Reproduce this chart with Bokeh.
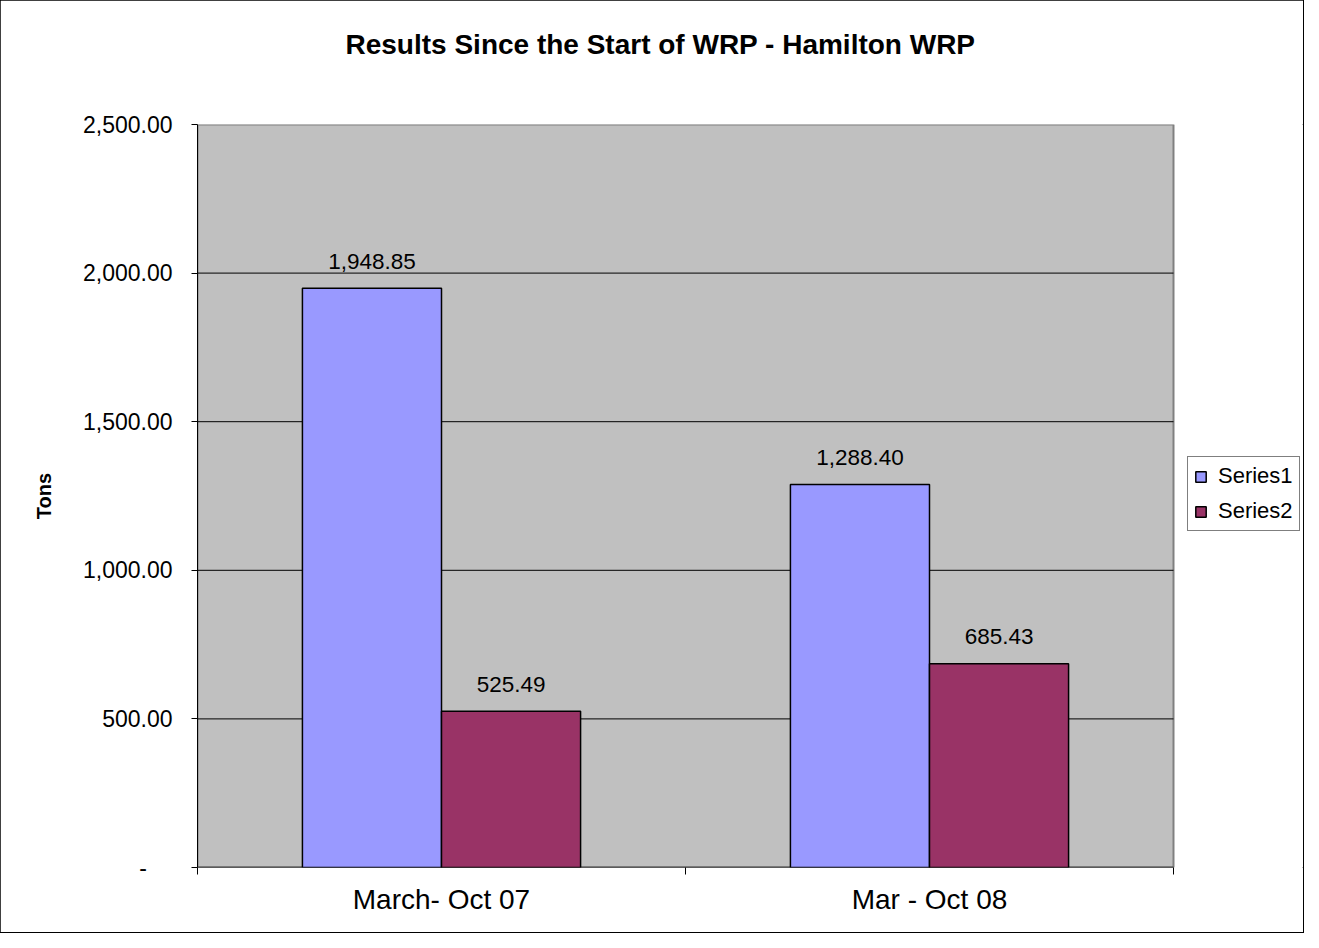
from bokeh.plotting import figure
from bokeh.models import (ColumnDataSource, Range1d, FixedTicker, NumeralTickFormatter,
                          Legend, LegendItem, Title)
from bokeh.core.properties import value
from bokeh.embed import file_html
from bokeh.resources import INLINE

# ---- data ----
categories = ["March- Oct 07", "Mar - Oct 08"]
series_names = ["Series1", "Series2"]
series1 = [1948.85, 1288.40]
series2 = [525.49, 685.43]
y_ticks = [0, 500, 1000, 1500, 2000, 2500]
title_text = "Results Since the Start of WRP - Hamilton WRP"
y_label = "Tons"

colors = ["#9999FF", "#993366"]
FONT = "Liberation Sans"
BAR_W = 0.285
W, H = 1303, 932
PLOT_L, PLOT_R = 197, 1173      # pixel extent of the grey plot area
n = len(categories)
y_max = y_ticks[-1]
x_end = n * (W - PLOT_L) / (PLOT_R - PLOT_L)   # frame extends under the legend

p = figure(width=W, height=H, output_backend="svg", toolbar_location=None,
           x_range=Range1d(0, x_end), y_range=Range1d(0, y_max),
           min_border_left=PLOT_L, min_border_right=0, min_border_top=124,
           min_border_bottom=65)
p.styles = {"outline": "2px solid black", "outline-offset": "-1px"}
p.background_fill_color = "white"
p.border_fill_color = "white"
p.outline_line_color = None

# grey plot area, gridlines, bottom axis line
p.quad(left=[0], right=[n], bottom=[0], top=[y_max], fill_color="#C0C0C0",
       line_color="#808080", line_width=2)
grid_y = y_ticks[1:-1]
p.segment(x0=[0] * len(grid_y), x1=[n] * len(grid_y), y0=grid_y, y1=grid_y,
          line_color="black", line_width=1)
p.segment(x0=[0], x1=[n], y0=[0], y1=[0], line_color="black", line_width=1.5)

# bars
centers = [i + 0.5 for i in range(n)]
renderers = []
for k, vals in enumerate([series1, series2]):
    xs = [c + (k - 0.5) * BAR_W for c in centers]
    src = ColumnDataSource(dict(x=xs, top=vals, lab=[f"{v:,.2f}" for v in vals]))
    r = p.vbar(x="x", top="top", width=BAR_W, bottom=0, source=src,
               fill_color=colors[k], line_color="black", line_width=1.5)
    renderers.append(r)
    p.text(x="x", y="top", text="lab", source=src, text_align="center",
           text_baseline="alphabetic", y_offset=-27,
           text_font=value(FONT), text_font_size="22.5px", text_color="black")

# axes
p.xgrid.visible = False
p.ygrid.visible = False

xa = p.xaxis[0]
xa.ticker = FixedTicker(ticks=centers, minor_ticks=list(range(n + 1)))
xa.major_label_overrides = {c: cat for c, cat in zip(centers, categories)}
xa.major_tick_out = 0
xa.major_tick_in = 0
xa.minor_tick_out = 7
xa.minor_tick_in = 0
xa.minor_tick_line_color = "black"
xa.axis_line_color = None
xa.major_label_text_font = FONT
xa.major_label_text_font_size = "28px"
xa.major_label_text_color = "black"
xa.major_label_standoff = 9

ya = p.yaxis[0]
ya.ticker = FixedTicker(ticks=y_ticks)
ya.formatter = NumeralTickFormatter(format="0,0.00")
ya.major_label_overrides = {0: "-\u00a0\u00a0\u00a0\u00a0"}
ya.major_tick_out = 6
ya.major_tick_in = 0
ya.minor_tick_out = 0
ya.minor_tick_in = 0
ya.major_tick_line_color = "black"
ya.axis_line_color = "black"
ya.major_label_text_font = FONT
ya.major_label_text_font_size = "23px"
ya.major_label_text_color = "black"
ya.major_label_standoff = 19
ya.axis_label = y_label
ya.axis_label_text_font = FONT
ya.axis_label_text_font_style = "bold"
ya.axis_label_text_font_size = "20px"
ya.axis_label_text_color = "black"
ya.axis_label_standoff = 25

# title (spacer first = nearest the frame)
p.add_layout(Title(text="\u00a0", text_font_size="52px", standoff=5), "above")
p.add_layout(Title(text=title_text, align="left", offset=148, standoff=0,
                   text_font=FONT, text_font_style="bold", text_font_size="28px",
                   text_color="black"), "above")

# legend (inside the widened frame, right of the grey area)
legend = Legend(items=[LegendItem(label=nm, renderers=[r]) for nm, r in zip(series_names, renderers)],
                location=(990, 336), glyph_width=13, glyph_height=13,
                label_text_font=FONT, label_text_font_size="22px", label_text_color="black",
                label_standoff=11, padding=6, spacing=9, border_line_color="black",
                border_line_width=1, background_fill_color="white", background_fill_alpha=1,
                margin=0)
p.add_layout(legend, "center")

open("out.html", "w").write(file_html(p, INLINE))
